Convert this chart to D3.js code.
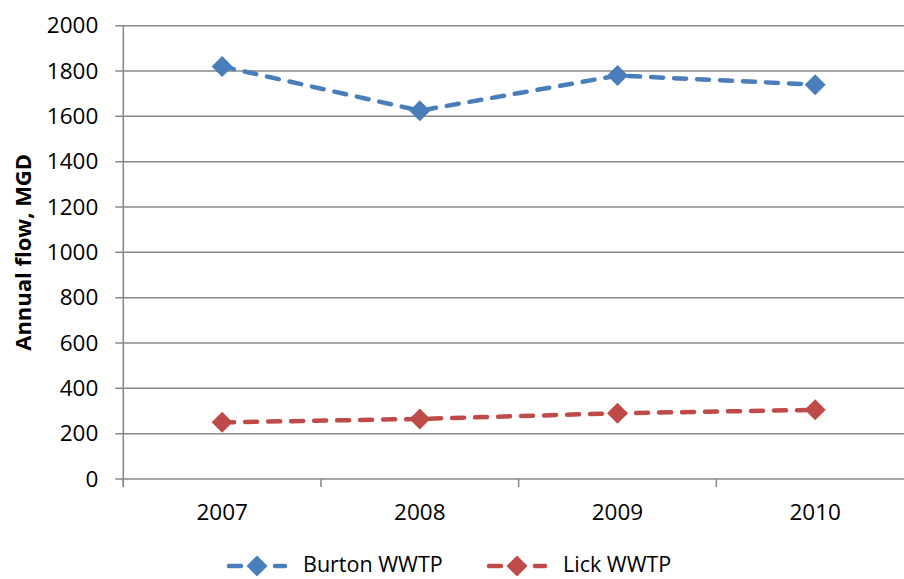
<!DOCTYPE html>
<html><head><meta charset="utf-8">
<script src="https://cdn.jsdelivr.net/npm/d3@7"></script>
<style>
body{margin:0;background:#fff;}
svg text{font-family:"Open Sans",Lato,sans-serif;fill:#000;}
</style></head>
<body>
<svg id="c" width="904" height="579"></svg>
<script>
const categories = ["2007","2008","2009","2010"];
const burton = [1820, 1625, 1780, 1740];
const lick = [250, 265, 290, 305];
const seriesNames = ["Burton WWTP","Lick WWTP"];
const seriesColors = ["#4a7ebb","#be4b48"];
const yTicks = [0,200,400,600,800,1000,1200,1400,1600,1800,2000];

(function(){
const FONT = "'Open Sans',Lato,sans-serif";
const svg = d3.select("#c");
const pL = 123.3, pR = 914, pT = 25.7, pB = 479;
const x = d3.scaleBand().domain(categories).range([pL, pR]);
const y = d3.scaleLinear().domain([0, 2000]).range([pB, pT]);

// gridlines
svg.append("g").selectAll("line").data(yTicks).join("line")
  .attr("x1", pL - 8).attr("x2", pR)
  .attr("y1", d => y(d)).attr("y2", d => y(d))
  .attr("stroke", "#878787").attr("stroke-width", 1.5);

// y axis
const yAxis = d3.axisLeft(y).tickValues(yTicks).tickFormat(d3.format("d")).tickSize(0).tickPadding(25);
const gy = svg.append("g").attr("transform", `translate(${pL},0)`).call(yAxis);
gy.select(".domain").remove();
gy.selectAll("text").attr("font-size", 22.5).attr("font-family", FONT);
svg.append("line").attr("x1", pL).attr("x2", pL).attr("y1", pT).attr("y2", pB + 8)
  .attr("stroke", "#878787").attr("stroke-width", 1.5);

// x axis
const xAxis = d3.axisBottom(x).tickSize(0).tickPadding(25);
const gx = svg.append("g").attr("transform", `translate(0,${pB})`).call(xAxis);
gx.select(".domain").remove();
gx.selectAll("text").attr("font-size", 22.5).attr("font-family", FONT);
const bounds = categories.map(c => x(c)).concat([x(categories[categories.length-1]) + x.bandwidth()]);
svg.append("g").selectAll("line").data(bounds).join("line")
  .attr("x1", d => d).attr("x2", d => d).attr("y1", pB).attr("y2", pB + 8)
  .attr("stroke", "#878787").attr("stroke-width", 1.5);

// y title
svg.append("text").attr("transform", `translate(31,${(pT+pB)/2}) rotate(-90)`)
  .attr("text-anchor", "middle").attr("font-size", 22).attr("font-weight", "bold")
  .text("Annual flow, MGD");

const cx = c => x(c) + x.bandwidth() / 2;
function diamondPath(r){ return `M0,${-r}L${r},0L0,${r}L${-r},0Z`; }

[burton, lick].forEach((vals, i) => {
  const pts = categories.map((c, j) => [cx(c), y(vals[j])]);
  svg.append("path").attr("d", d3.line()(pts)).attr("fill", "none")
    .attr("stroke", seriesColors[i]).attr("stroke-width", 4.5)
    .attr("stroke-dasharray", "12 11").attr("stroke-linecap", "round");
  svg.append("g").selectAll("path").data(pts).join("path")
    .attr("d", diamondPath(10.5)).attr("transform", d => `translate(${d[0]},${d[1]})`)
    .attr("fill", seriesColors[i]);
});

// legend
const legX = [227, 487];
seriesNames.forEach((n, i) => {
  const g = svg.append("g").attr("transform", `translate(${legX[i]},566)`);
  g.append("line").attr("x1", 2).attr("x2", 58).attr("y1", 0).attr("y2", 0)
    .attr("stroke", seriesColors[i]).attr("stroke-width", 4.5)
    .attr("stroke-dasharray", "12 11").attr("stroke-linecap", "round");
  g.append("path").attr("d", diamondPath(10.5)).attr("transform", "translate(30,0)").attr("fill", seriesColors[i]);
  g.append("text").attr("x", 76).attr("y", 0).attr("dy", "0.3em").attr("font-size", 21.5).text(n);
});
})();
</script>
</body></html>
